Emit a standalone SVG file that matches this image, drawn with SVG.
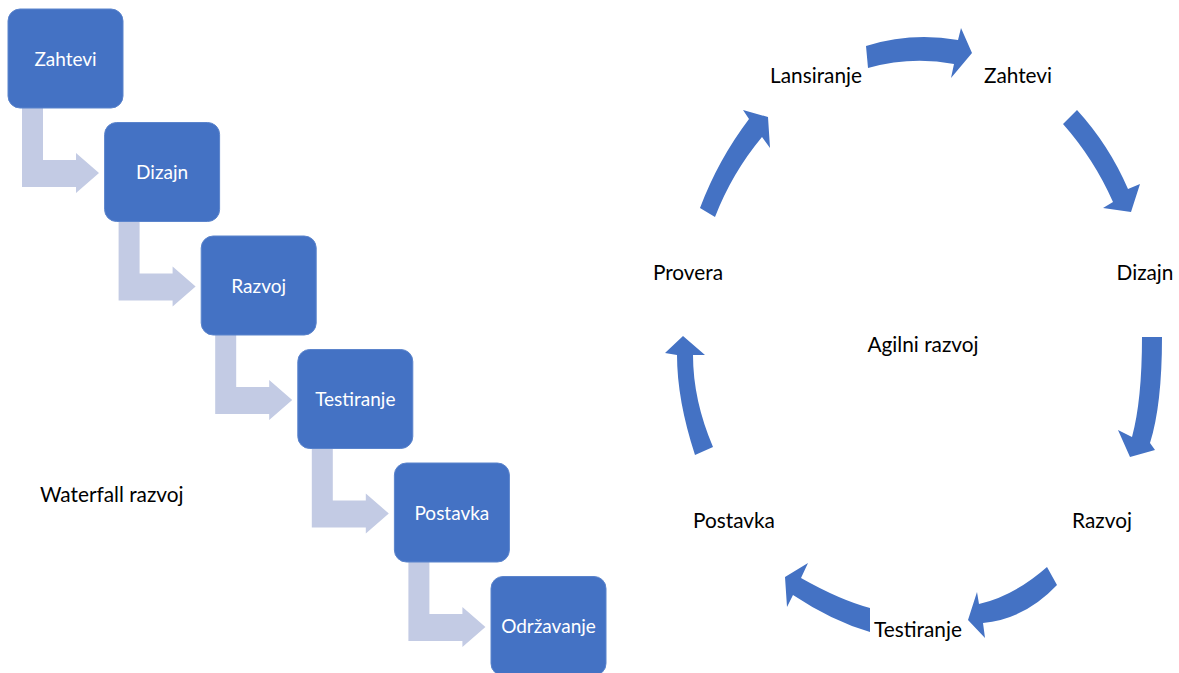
<svg xmlns="http://www.w3.org/2000/svg" xmlns:xlink="http://www.w3.org/1999/xlink" width="1179" height="673" viewBox="0 0 1179 673">
  <style>
    .box { fill: #4472c4; stroke: #5b84cc; stroke-width: 1; }
    .boxtxt { font-family: Lato, "Liberation Sans", sans-serif; font-size: 19px; fill: #ffffff; text-anchor: middle; }
    .bend { fill: #c3cbe4; }
    .cyc { fill: #4472c4; }
    .lbl { font-family: Lato, "Liberation Sans", sans-serif; font-size: 20.8px; fill: #000000; text-anchor: middle; }
  </style>
  <defs>
    <!-- bent arrow leading from one step down into the next -->
    <polygon id="bendArrow" points="14,99 35,99 35,151 68,151 68,144 91,164 68,184 68,178 14,178"/>
  </defs>
  <rect width="1179" height="673" fill="#ffffff"/>

  <!-- waterfall connectors -->
  <g id="waterfall-connectors" class="bend">
    <use xlink:href="#bendArrow" x="8" y="9"/>
    <use xlink:href="#bendArrow" x="104.6" y="122.5"/>
    <use xlink:href="#bendArrow" x="201.2" y="236"/>
    <use xlink:href="#bendArrow" x="297.8" y="349.5"/>
    <use xlink:href="#bendArrow" x="394.4" y="463"/>
  </g>

  <!-- waterfall steps -->
  <g id="wf-zahtevi">
    <rect class="box" x="8" y="9" width="115" height="99" rx="12"/>
    <text class="boxtxt" x="65.5" y="65.5">Zahtevi</text>
  </g>
  <g id="wf-dizajn">
    <rect class="box" x="104.6" y="122.5" width="115" height="99" rx="12"/>
    <text class="boxtxt" x="162.1" y="179">Dizajn</text>
  </g>
  <g id="wf-razvoj">
    <rect class="box" x="201.2" y="236" width="115" height="99" rx="12"/>
    <text class="boxtxt" x="258.7" y="292.5">Razvoj</text>
  </g>
  <g id="wf-testiranje">
    <rect class="box" x="297.8" y="349.5" width="115" height="99" rx="12"/>
    <text class="boxtxt" x="355.3" y="406">Testiranje</text>
  </g>
  <g id="wf-postavka">
    <rect class="box" x="394.4" y="463" width="115" height="99" rx="12"/>
    <text class="boxtxt" x="451.9" y="519.5">Postavka</text>
  </g>
  <g id="wf-odrzavanje">
    <rect class="box" x="491" y="576.5" width="115" height="99" rx="12"/>
    <text class="boxtxt" x="548.5" y="633">Održavanje</text>
  </g>

  <g id="wf-title">
    <text x="40" y="502" font-family="Lato, 'Liberation Sans', sans-serif" font-size="20.8" fill="#000000">Waterfall razvoj</text>
  </g>

  <!-- agile cycle arrows -->
  <g id="cycle-connectors" class="cyc">
    <path d="M866,46 Q911,32 958,40 L961,28 L972,53 L951,78 L954,64 Q911,56 868,68 Z"/>
    <path d="M1077,110 Q1109,145 1128,189 L1140,184 L1131,212 L1103,208 L1113,202 Q1094,159 1063,124 Z"/>
    <path d="M1142,337 L1162,337 Q1162,405 1150,443 L1155,450 L1130,457 L1118,430 L1132,437 Q1142,400 1142,337 Z"/>
    <path d="M1047,567 L1057,585 Q1025,619 983,623 L985,638 L968,620 L977,592 L979,604 Q1014,596 1047,567 Z"/>
    <path d="M870,608 L870,632 Q832,621 793,595 L787,607 L785,577 L808,563 L801,578 Q840,600 870,608 Z"/>
    <path d="M695,455 L713,447 Q693,400 693,355 L705,355 L683,336 L665,353 L677,355 Q677,400 695,455 Z"/>
    <path d="M700,208 Q718,160 749,119 L743,110 L768,117 L770,148 L762,137 Q732,173 715,217 Z"/>
  </g>

  <!-- agile cycle labels -->
  <g id="ag-lansiranje"><text class="lbl" x="816" y="83">Lansiranje</text></g>
  <g id="ag-zahtevi"><text class="lbl" x="1018" y="83">Zahtevi</text></g>
  <g id="ag-dizajn"><text class="lbl" x="1145" y="280">Dizajn</text></g>
  <g id="ag-razvoj"><text class="lbl" x="1102" y="528">Razvoj</text></g>
  <g id="ag-testiranje"><text class="lbl" x="918" y="637">Testiranje</text></g>
  <g id="ag-postavka"><text class="lbl" x="734" y="528">Postavka</text></g>
  <g id="ag-provera"><text class="lbl" x="688" y="280">Provera</text></g>
  <g id="ag-title"><text class="lbl" x="923" y="352">Agilni razvoj</text></g>
</svg>
